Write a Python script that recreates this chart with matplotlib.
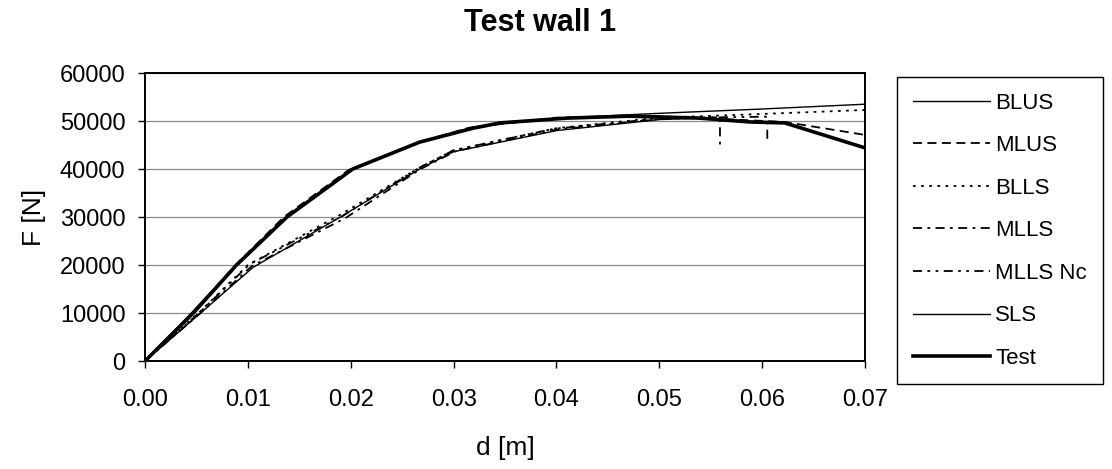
import matplotlib.pyplot as plt
import numpy as np

plt.rcParams['font.family'] = ['Liberation Sans', 'DejaVu Sans']

# data (d in m, F in N)
blus_d = [0, 0.0045, 0.009, 0.014, 0.0202, 0.027, 0.032, 0.040, 0.050, 0.060, 0.070]
blus_F = [0, 10000, 20300, 30200, 40000, 45800, 48800, 50600, 51600, 52500, 53500]

mlus_d = [0, 0.0046, 0.0088, 0.0135, 0.0198, 0.0265, 0.0315, 0.040, 0.050, 0.0622, 0.070]
mlus_F = [0, 10000, 20000, 30000, 39800, 45500, 48600, 50700, 51000, 49800, 47100]

blls_d = [0, 0.0052, 0.0100, 0.0190, 0.0267, 0.0300, 0.0400, 0.0500, 0.0580, 0.0700]
blls_F = [0, 10000, 20000, 30500, 40300, 43900, 48500, 50700, 51300, 52300]

mlls_d = [0, 0.0054, 0.0104, 0.0195, 0.0268, 0.0302, 0.0400, 0.0500, 0.0559, 0.0559]
mlls_F = [0, 10000, 19800, 29800, 40000, 43700, 48200, 50400, 50800, 45000]

mllsnc_d = [0, 0.0053, 0.0102, 0.0192, 0.0266, 0.0300, 0.0398, 0.0505, 0.0605, 0.0605]
mllsnc_F = [0, 10100, 20200, 30200, 40200, 43900, 48400, 50600, 50900, 46000]

sls_d = [0, 0.0053, 0.0105, 0.0190, 0.0267, 0.0300, 0.0400, 0.0500, 0.0550]
sls_F = [0, 9800, 19500, 30000, 40000, 43600, 48000, 50300, 50700]

test_d = [0, 0.0047, 0.0089, 0.0138, 0.0202, 0.0267, 0.0319, 0.0345, 0.0410, 0.0470,
          0.0507, 0.0539, 0.0588, 0.0622, 0.0700]
test_F = [0, 10000, 20000, 30000, 40000, 45600, 48500, 49600, 50600, 51000,
          50800, 50600, 49800, 49600, 44400]

xticks = [0, 0.01, 0.02, 0.03, 0.04, 0.05, 0.06, 0.07]
yticks = [0, 10000, 20000, 30000, 40000, 50000, 60000]

fig = plt.figure(figsize=(11.12, 4.69), dpi=100)
ax = fig.add_axes([145/1112, 1-361/469, 720/1112, 288/469])

ax.plot(blus_d, blus_F, color='black', lw=1.0, label='BLUS')
ax.plot(mlus_d, mlus_F, color='black', lw=1.3, ls=(0, (5, 3)), label='MLUS')
ax.plot(blls_d, blls_F, color='black', lw=1.3, ls=(0, (1.5, 3)), label='BLLS')
ax.plot(mlls_d, mlls_F, color='black', lw=1.3, ls=(0, (5, 3, 1.5, 3)), label='MLLS')
ax.plot(mllsnc_d, mllsnc_F, color='black', lw=1.3, ls=(0, (5, 3, 1.5, 3, 1.5, 3)), label='MLLS Nc')
ax.plot(sls_d, sls_F, color='black', lw=1.0, label='SLS')
ax.plot(test_d, test_F, color='black', lw=2.6, label='Test')

ax.set_xlim(0, 0.07)
ax.set_ylim(0, 60000)
ax.set_xticks(xticks)
ax.set_xticklabels(['%.2f' % x for x in xticks])
ax.set_yticks(yticks)
ax.yaxis.grid(True, color='#8a8a8a', lw=0.9)
ax.set_axisbelow(True)
ax.tick_params(direction='out', length=5, width=1, labelsize=17)
ax.tick_params(axis='x', pad=15)
ax.tick_params(axis='y', pad=9)
for s in ax.spines.values():
    s.set_linewidth(1.4)

ax.set_xlabel('d [m]', fontsize=19, labelpad=18)
ax.set_ylabel('F [N]', fontsize=19, labelpad=10)
fig.text(540/1112, 1-23/469, 'Test wall 1', fontsize=22, fontweight='bold',
         ha='center', va='center')

leg = fig.legend(loc='upper left', bbox_to_anchor=(897/1112, 1-77/469),
                 fontsize=16, handlelength=3.5, handletextpad=0.22,
                 labelspacing=0.97, borderpad=0.7, borderaxespad=0,
                 fancybox=False, framealpha=1, edgecolor='black')
leg.get_frame().set_linewidth(1.0)

fig.savefig('out.png', dpi=100)
